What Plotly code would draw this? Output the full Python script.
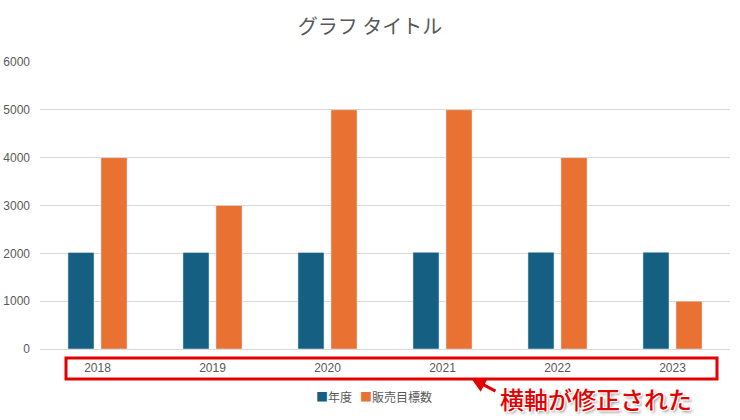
import plotly.graph_objects as go

categories = ["2018", "2019", "2020", "2021", "2022", "2023"]
nendo = [2018, 2019, 2020, 2021, 2022, 2023]
hanbai = [4000, 3000, 5000, 5000, 4000, 1000]
y_ticks = [0, 1000, 2000, 3000, 4000, 5000, 6000]
series_names = ["年度", "販売目標数"]
series_colors = ["#156082", "#E97132"]

FONT = "Liberation Sans, Arial, Noto Sans CJK JP, sans-serif"
JP = "Noto Sans CJK JP, sans-serif"

fig = go.Figure()
fig.add_trace(go.Bar(x=categories, y=nendo, name=series_names[0], marker_color=series_colors[0]))
fig.add_trace(go.Bar(x=categories, y=hanbai, name=series_names[1], marker_color=series_colors[1]))

W, H = 740, 420
L, R, T, B = 40, 10, 62, 71
pw, ph = W - L - R, H - T - B

def px_x(x):
    return (x - L) / pw

def px_y(y):
    return (H - B - y) / ph

legend_text = "&nbsp;&nbsp;&nbsp;".join(
    f"<span style='color:{c}'>■</span>{n}" for n, c in zip(series_names, series_colors)
)

fig.update_layout(
    width=W, height=H,
    margin=dict(l=L, r=R, t=T, b=B),
    paper_bgcolor="white", plot_bgcolor="white",
    title=dict(text="グラフ タイトル", x=0.5, xanchor="center", y=1 - 27 / H, yanchor="middle",
               font=dict(family=JP, size=20, color="#595959")),
    barmode="group", bargap=0.426, bargroupgap=0.21,
    font=dict(family=FONT, color="#595959", size=12),
    xaxis=dict(type="category", showgrid=False, showline=True, linecolor="#d9d9d9", linewidth=1,
               ticks="", tickfont=dict(size=12, color="#595959"), ticklabelstandoff=8, automargin=False),
    yaxis=dict(range=[0, 6000], tickvals=y_ticks, showgrid=True, gridcolor="#d9d9d9",
               zeroline=False, ticks="", tickfont=dict(size=12, color="#595959"), ticklabelstandoff=9,
               automargin=False),
    showlegend=False,
    shapes=[dict(type="rect", xref="paper", yref="paper",
                 x0=px_x(66), x1=px_x(717), y0=px_y(358), y1=px_y(379),
                 line=dict(color="#e30000", width=3), fillcolor="rgba(0,0,0,0)")],
    annotations=[
        dict(xref="paper", yref="paper", x=px_x(374), y=px_y(396), xanchor="center", yanchor="middle",
             text=legend_text, showarrow=False, font=dict(family=JP, size=12, color="#595959")),
        dict(xref="paper", yref="paper", x=px_x(471), y=px_y(378), ax=26, ay=14,
             text="", showarrow=True, arrowhead=2, arrowsize=1, arrowwidth=3, arrowcolor="#e30000"),
        dict(xref="paper", yref="paper", x=px_x(596), y=px_y(398), xanchor="center", yanchor="middle",
             text="横軸が修正された", showarrow=False,
             font=dict(family=JP, size=24, color="#e30000", weight=500,
                       shadow="1px 1px 0 #fff, -1px -1px 0 #fff, 1px -1px 0 #fff, -1px 1px 0 #fff, 2px 2px 3px #888")),
    ],
)

fig.write_html("out.html", config={"displayModeBar": False})
with open("out.html", encoding="utf-8") as f:
    html = f.read()
html = html.replace("<head>", "<head><style>html,body{margin:0;padding:0;}</style>", 1)
with open("out.html", "w", encoding="utf-8") as f:
    f.write(html)
